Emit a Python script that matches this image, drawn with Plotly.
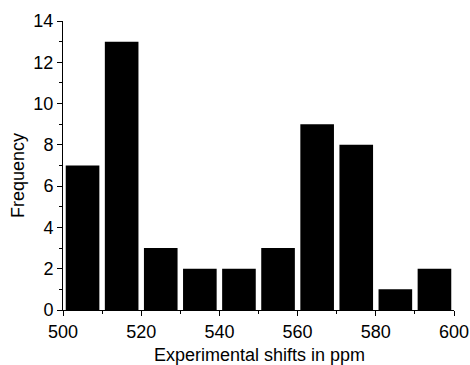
import plotly.graph_objects as go

bin_centers = [505, 515, 525, 535, 545, 555, 565, 575, 585, 595]
frequency = [7, 13, 3, 2, 2, 3, 9, 8, 1, 2]
x_ticks = [500, 520, 540, 560, 580, 600]
y_ticks = [0, 2, 4, 6, 8, 10, 12, 14]
x_title = "Experimental shifts in ppm"
y_title = "Frequency"

fig = go.Figure(go.Bar(x=bin_centers, y=frequency, marker=dict(color="black", line=dict(width=0))))

font = "Liberation Sans, Arial, sans-serif"
L, R, T, B = 63, 16, 21, 55
W, H = 470, 365
pw, ph = W - L - R, H - T - B

fig.update_layout(
    width=W, height=H,
    margin=dict(l=L, r=R, t=T, b=B),
    plot_bgcolor="white", paper_bgcolor="white",
    bargap=0.14,
    showlegend=False,
    font=dict(family=font, color="black", size=18),
)
fig.update_xaxes(
    range=[500, 600], tickvals=x_ticks, showline=True, linecolor="black", linewidth=1,
    ticks="outside", ticklen=5, tickcolor="black", showgrid=False, zeroline=False,
    minor=dict(ticks="outside", ticklen=3, dtick=10, tick0=500, tickcolor="black", showgrid=False),
    tickfont=dict(size=18), automargin=False,
)
fig.update_yaxes(
    range=[0, 14], tickvals=y_ticks, showline=True, linecolor="black", linewidth=1,
    ticks="outside", ticklen=5, tickcolor="black", showgrid=False, zeroline=False,
    minor=dict(ticks="outside", ticklen=3, dtick=1, tick0=0, tickcolor="black", showgrid=False),
    tickfont=dict(size=18), automargin=False,
)
fig.add_annotation(
    text=x_title, xref="paper", yref="paper",
    x=(259 - L) / pw, y=(T + ph - 355) / ph,
    xanchor="center", yanchor="middle", showarrow=False, font=dict(size=18),
)
fig.add_annotation(
    text=y_title, xref="paper", yref="paper", textangle=-90,
    x=(18 - L) / pw, y=(T + ph - 176) / ph,
    xanchor="center", yanchor="middle", showarrow=False, font=dict(size=18),
)
fig.write_html("out.html")
